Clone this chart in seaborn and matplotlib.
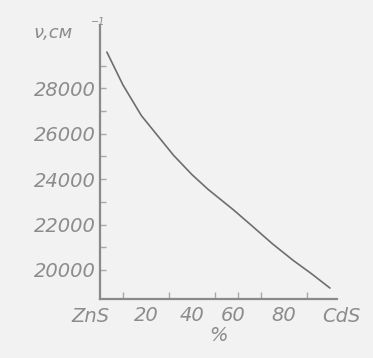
import numpy as np
import pandas as pd
import seaborn as sns
import matplotlib.pyplot as plt
from matplotlib.ticker import FixedLocator
import matplotlib.transforms as mtransforms

# состав (% CdS) и частота края поглощения, см^-1
cds_pct = [3, 10, 18, 26, 32, 40, 47, 58, 66, 75, 84, 92, 100]
nu = [29600, 28150, 26800, 25800, 25050, 24200, 23550, 22650, 21950, 21150, 20420, 19830, 19200]

xlabels = ['20', '40', '60', '80']
xlabel_pos = [20, 40, 58, 80]
end_labels = ['ZnS', 'CdS']
end_pos = [-4, 105]
yticks = [20000, 22000, 24000, 26000, 28000]

bg = '#f2f2f2'
gray = '#8c8c8c'

sns.set_style('white')
plt.rcParams['font.family'] = ['DejaVu Sans']

df = pd.DataFrame({'x': cds_pct, 'nu': nu})

fig = plt.figure(figsize=(3.73, 3.58), dpi=100, facecolor=bg)
ax = fig.add_axes([0.268, 0.165, 0.635, 0.765], facecolor=bg)

sns.lineplot(data=df, x='x', y='nu', ax=ax, color='#6e6e6e', linewidth=1.2)

ax.set_xlim(0, 103)
ax.set_ylim(18720, 30790)

for s in ['top', 'right']:
    ax.spines[s].set_visible(False)
for s in ['left', 'bottom']:
    ax.spines[s].set_color('#8a8a8a')
    ax.spines[s].set_linewidth(1.6)

ax.tick_params(which='both', bottom=True, left=True)

ax.set_yticks(yticks)
ax.set_yticklabels([str(v) for v in yticks], fontsize=14, style='italic', color=gray)
ax.yaxis.set_minor_locator(FixedLocator(list(range(21000, 31000, 2000))))
ax.tick_params(axis='y', which='major', direction='in', length=4, width=1, color='#a8a8a8', pad=3)
ax.tick_params(axis='y', which='minor', direction='in', length=4, width=1, color='#a8a8a8')

ax.xaxis.set_major_locator(FixedLocator(xlabel_pos))
ax.set_xticklabels(xlabels, fontsize=14, style='italic', color=gray)
ax.xaxis.set_minor_locator(FixedLocator(list(range(10, 100, 10))))
ax.tick_params(axis='x', which='major', length=0, pad=5)
ax.tick_params(axis='x', which='minor', direction='in', length=5, width=1, color='#a8a8a8')

trans = mtransforms.blended_transform_factory(ax.transData, ax.transAxes)
for lab, p in zip(end_labels, end_pos):
    ax.text(p, -0.028, lab, transform=trans, ha='center', va='top',
            fontsize=14, style='italic', color=gray, clip_on=False)

ax.set_xlabel('%', fontsize=14, style='italic', color=gray, labelpad=1)
ax.set_ylabel('')

fig.text(0.09, 0.893, 'ν,см', fontsize=13, style='italic', color=gray)
fig.text(0.245, 0.93, '−1', fontsize=7, style='italic', color=gray)

fig.savefig('out.png', dpi=100, facecolor=bg)
